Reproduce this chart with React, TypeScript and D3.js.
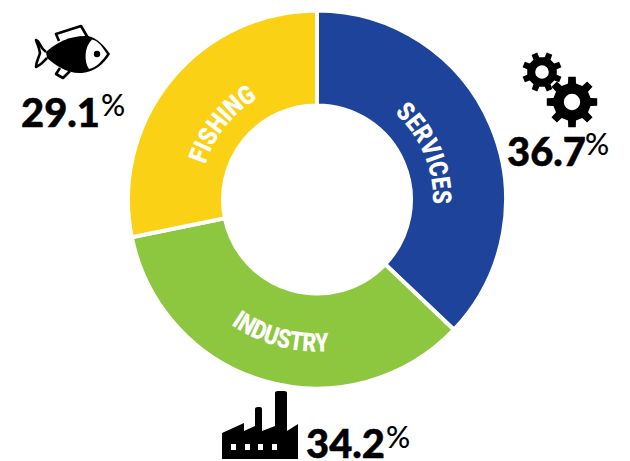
import React from "react";
import * as d3 from "d3";

const categories = ["SERVICES", "INDUSTRY", "FISHING"];
const sliceShares = [37.1, 34.7, 28.2];
const colors = ["#1d439b", "#8dc63f", "#fbd116"];
const percentLabels = ["36.7", "34.2", "29.1"];

const cx = 317, cy = 199.5, outer = 189, inner = 94;

function gearPath(x: number, y: number, rOut: number, rBody: number, rHole: number, teeth: number, rot: number) {
  const pts: string[] = [];
  const step = (Math.PI * 2) / teeth;
  const w = step * 0.2;
  for (let i = 0; i < teeth; i++) {
    const a = rot + i * step;
    const seq: [number, number][] = [
      [rBody, a - w * 1.35],
      [rOut, a - w * 0.95],
      [rOut, a + w * 0.95],
      [rBody, a + w * 1.35],
    ];
    seq.forEach(([r, t]) => pts.push(`${x + r * Math.sin(t)},${y - r * Math.cos(t)}`));
  }
  const hole = `M${x - rHole},${y}a${rHole},${rHole} 0 1,0 ${2 * rHole},0a${rHole},${rHole} 0 1,0 ${-2 * rHole},0Z`;
  return `M${pts.join("L")}Z${hole}`;
}

function arcD(r: number, a0: number, a1: number) {
  const rad = (d: number) => (d * Math.PI) / 180;
  const p = (d: number) => [cx + r * Math.sin(rad(d)), cy - r * Math.cos(rad(d))];
  const [x0, y0] = p(a0);
  const [x1, y1] = p(a1);
  const sweep = a1 > a0 ? 1 : 0;
  return `M${x0},${y0}A${r},${r} 0 0,${sweep} ${x1},${y1}`;
}

const labelPaths = [
  { d: arcD(116, 36, 98), len: 102 },
  { d: arcD(152, 225, 165), len: 103 },
  { d: arcD(117, 278.5, 338.5), len: 86 },
];

const numFont = "Lato, 'Noto Sans', sans-serif";
const labelFont = "Roboto, sans-serif";

function Pct({ x, y, value, px, py }: { x: number; y: number; value: string; px: number; py: number }) {
  return (
    <g fill="#000" fontFamily={numFont}>
      <text x={x} y={y} fontSize={40} fontWeight={900} stroke="#000" strokeWidth={0.5} textLength={79} lengthAdjust="spacingAndGlyphs">{value}</text>
      <text x={px} y={py} fontSize={30} fontWeight={500}>%</text>
    </g>
  );
}

export default function App() {
  const pie = d3.pie<number>().sort(null)(sliceShares);
  const arc = d3.arc<d3.PieArcDatum<number>>().innerRadius(inner).outerRadius(outer);
  return (
    <svg width={630} height={461} viewBox="0 0 630 461"
      style={{ position: "absolute", left: 0, top: 0, background: "#fff" }}>
      <g transform={`translate(${cx},${cy})`}>
        {pie.map((p, i) => (
          <path key={categories[i]} d={arc(p) ?? ""} fill={colors[i]} stroke="#fff" strokeWidth={4} />
        ))}
      </g>
      <defs>
        {labelPaths.map((l, i) => <path key={i} id={`lp${i}`} d={l.d} />)}
      </defs>
      {categories.map((c, i) => (
        <text key={c} fill="#fff" fontFamily={labelFont} fontWeight={900} fontSize={26} textAnchor="middle">
          <textPath href={`#lp${i}`} startOffset="50%" textLength={labelPaths[i].len} lengthAdjust="spacingAndGlyphs">{c}</textPath>
        </text>
      ))}

      {/* fish */}
      <g>
        <path d="M46,52 C38,46 41,42 36,40 C38,46 39,47 40,53 C38,60 36,62 36,67 C41,65 43,62 47,58"
          fill="#fff" stroke="#000" strokeWidth={2.6} strokeLinejoin="round" />
        <path d="M59,41 L56,34 L81,26 L88,38" fill="#fff" stroke="#000" strokeWidth={2.6} strokeLinejoin="round" />
        <path d="M60,68 L56,74 L63,78 L70,71" fill="#fff" stroke="#000" strokeWidth={2.6} strokeLinejoin="round" />
        <path d="M46,52 C56,42 72,35 88,36 C98,38 105,47 110,54 C104,64 94,72 82,73 C68,74 56,66 47,58 Z" fill="#000" />
        <path d="M92,39.5 C99,41 103,48 107,54 C103,60 96,68 89,69 C84,62 84,47 92,39.5 Z" fill="#fff" />
        <circle cx={97} cy={54} r={3.2} fill="#000" />
      </g>
      <Pct x={21} y={127} value={percentLabels[2]} px={101} py={116} />

      {/* gears */}
      <path d={gearPath(542, 72, 20, 15, 6.8, 8, 0.39)} fill="#000" fillRule="evenodd" />
      <path d={gearPath(572, 102, 25.5, 19, 8.2, 8, 0)} fill="#000" fillRule="evenodd" />
      <Pct x={507} y={166} value={percentLabels[0]} px={585} py={155} />

      {/* factory */}
      <path fillRule="evenodd" fill="#000"
        d="M222,433 L244,423 L244,431 L255,426 L255,409 Q255,407 258,407 L260,407 Q262,407 262,409 L262,431 L275,426 L275,393 Q275,391 278,391 L284,391 Q287,391 287,393 L287,431 L298,424 L298,459 L222,459 Z
           M231,444 h5 v6 h-5 Z M245,444 h5 v6 h-5 Z M258,444 h5 v6 h-5 Z M272,444 h5 v6 h-5 Z" />
      <Pct x={306} y={458} value={percentLabels[1]} px={386} py={448} />
    </svg>
  );
}
